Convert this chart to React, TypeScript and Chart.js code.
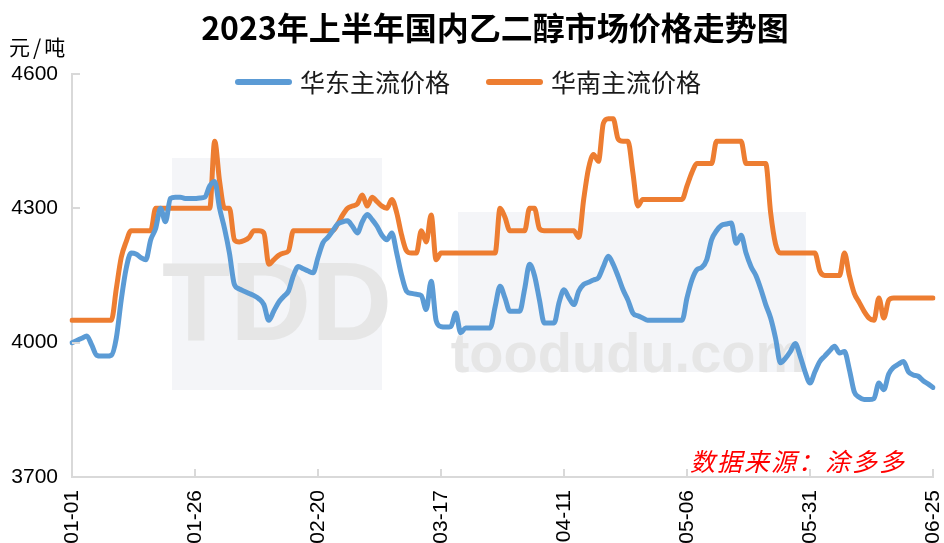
import React, { useEffect, useRef } from "react";
import { Chart, registerables } from "chart.js";

Chart.register(...registerables);

const TITLE = "2023年上半年国内乙二醇市场价格走势图";
const Y_UNIT = "元/吨";
const SOURCE = "数据来源：涂多多";
const SERIES_NAMES = ["华东主流价格", "华南主流价格"];
const SERIES_COLORS = ["#5B9BD5", "#ED7D31"];
const Y_MIN = 3700;
const Y_MAX = 4600;
const Y_STEP = 300;
const START_DATE = "2023-01-01";
const LABEL_EVERY = 25;

// 华东主流价格 (daily, 01-01 .. 06-25)
const EAST = [
  4000, 4005, 4010, 4015, 3995, 3972, 3970, 3970, 3972, 4010,
  4095, 4165, 4200, 4198, 4190, 4185, 4230, 4255, 4300, 4270,
  4322, 4325, 4325, 4322, 4322, 4322, 4323, 4325, 4350, 4360,
  4300, 4255, 4200, 4130, 4120, 4115, 4110, 4105, 4098, 4085,
  4050, 4070, 4090, 4103, 4115, 4150, 4170, 4165, 4160, 4156,
  4190, 4223, 4235, 4250, 4265, 4270, 4272, 4260, 4245, 4270,
  4286, 4275, 4260, 4240, 4230, 4245, 4200, 4150, 4115, 4110,
  4108, 4105, 4074, 4137, 4050, 4036, 4035, 4036, 4066, 4022,
  4033, 4033, 4033, 4033, 4033, 4033, 4080, 4126, 4100, 4070,
  4070, 4070, 4120, 4175, 4150, 4096, 4044, 4044, 4044, 4090,
  4118, 4100, 4085, 4115, 4130, 4135, 4140, 4145, 4170, 4193,
  4175, 4148, 4118, 4095, 4066, 4060, 4055, 4050, 4050, 4050,
  4050, 4050, 4050, 4050, 4050, 4100, 4140, 4163, 4168, 4185,
  4230, 4250, 4262, 4265, 4267, 4222, 4240, 4200, 4170, 4150,
  4120, 4085, 4055, 4010, 3955, 3965, 3980, 3998, 3970, 3935,
  3910, 3935, 3958, 3970, 3982, 3992, 3977, 3980, 3940, 3890,
  3878, 3873, 3873, 3875, 3910, 3895, 3930, 3945, 3952, 3958,
  3935, 3928, 3925, 3915, 3908, 3900,
];

// 华南主流价格 (daily, 01-01 .. 06-25)
const SOUTH = [
  4050, 4050, 4050, 4050, 4050, 4050, 4050, 4050, 4050, 4120,
  4190, 4225, 4250, 4250, 4250, 4250, 4250, 4300, 4300, 4300,
  4300, 4300, 4300, 4300, 4300, 4300, 4300, 4300, 4300, 4450,
  4360, 4300, 4300, 4230, 4225, 4228, 4235, 4250, 4250, 4245,
  4175, 4185, 4195, 4200, 4205, 4250, 4250, 4250, 4250, 4250,
  4250, 4250, 4250, 4250, 4265, 4285, 4300, 4305, 4310, 4330,
  4305, 4325, 4315, 4305, 4300, 4320, 4290, 4240, 4205, 4200,
  4200, 4250, 4225, 4285, 4185, 4200, 4200, 4200, 4200, 4200,
  4200, 4200, 4200, 4200, 4200, 4200, 4200, 4300, 4280, 4250,
  4250, 4250, 4250, 4300, 4300, 4255, 4250, 4250, 4250, 4250,
  4250, 4250, 4250, 4235, 4320, 4390, 4420, 4405, 4490, 4500,
  4500, 4455, 4450, 4450, 4380, 4305, 4320, 4320, 4320, 4320,
  4320, 4320, 4320, 4320, 4320, 4350, 4380, 4400, 4400, 4400,
  4400, 4450, 4450, 4450, 4450, 4450, 4450, 4400, 4400, 4400,
  4400, 4400, 4290, 4220, 4200, 4200, 4200, 4200, 4200, 4200,
  4200, 4200, 4160, 4150, 4150, 4150, 4150, 4200, 4150, 4110,
  4090, 4070, 4055, 4050, 4100, 4055, 4095, 4100, 4100, 4100,
  4100, 4100, 4100, 4100, 4100, 4100,
];

function buildDateLabels(start: string, count: number): string[] {
  const out: string[] = [];
  const d0 = new Date(start + "T00:00:00Z");
  for (let i = 0; i < count; i++) {
    const d = new Date(d0.getTime() + i * 86400000);
    const mm = String(d.getUTCMonth() + 1).padStart(2, "0");
    const dd = String(d.getUTCDate()).padStart(2, "0");
    out.push(`${mm}-${dd}`);
  }
  return out;
}

const DATES = buildDateLabels(START_DATE, EAST.length);

const AXIS_COLOR = "#d9d9d9";

const overlayPlugin = {
  id: "overlay",
  beforeDatasetsDraw(chart: any) {
    const ctx = chart.ctx as CanvasRenderingContext2D;
    ctx.save();
    // faint source watermark panels
    ctx.fillStyle = "#f4f5f8";
    ctx.fillRect(172, 158, 210, 232);
    ctx.fillRect(458, 212, 348, 160);
    ctx.fillStyle = "#e6e6e6";
    ctx.font = 'bold 112px "Liberation Sans"';
    ctx.textAlign = "center";
    ctx.textBaseline = "alphabetic";
    ctx.fillText("TDD", 277, 340);
    ctx.font = 'bold 56px "Liberation Sans"';
    ctx.fillText("toodudu.com", 628, 372);
    ctx.restore();
  },
  afterDraw(chart: any) {
    const ctx = chart.ctx as CanvasRenderingContext2D;
    const area = chart.chartArea;
    const xs = chart.scales.x;
    const ys = chart.scales.y;
    ctx.save();
    // inside tick marks
    ctx.strokeStyle = AXIS_COLOR;
    ctx.lineWidth = 2;
    for (let i = LABEL_EVERY; i < DATES.length; i += LABEL_EVERY) {
      const px = Math.round(xs.getPixelForValue(i));
      ctx.beginPath();
      ctx.moveTo(px, area.bottom);
      ctx.lineTo(px, area.bottom - 8);
      ctx.stroke();
    }
    for (let v = Y_MIN + Y_STEP; v <= Y_MAX; v += Y_STEP) {
      const py = Math.round(ys.getPixelForValue(v));
      ctx.beginPath();
      ctx.moveTo(area.left, py);
      ctx.lineTo(area.left + 8, py);
      ctx.stroke();
    }

    // title
    ctx.fillStyle = "#000";
    ctx.textAlign = "center";
    ctx.textBaseline = "alphabetic";
    ctx.font = 'bold 32px "Liberation Sans Narrow", "Noto Sans CJK SC"';
    ctx.fillText(TITLE, 495, 40);

    // unit
    ctx.textAlign = "left";
    ctx.font = '21px "Noto Sans CJK SC"';
    (ctx as any).letterSpacing = "3px";
    ctx.fillText(Y_UNIT, 9, 55);
    (ctx as any).letterSpacing = "0px";

    // legend
    const legendItems = [
      { x: 238, name: SERIES_NAMES[0], color: SERIES_COLORS[0] },
      { x: 489, name: SERIES_NAMES[1], color: SERIES_COLORS[1] },
    ];
    ctx.lineCap = "round";
    ctx.font = '25px "Noto Sans CJK SC"';
    ctx.textBaseline = "middle";
    for (const it of legendItems) {
      ctx.strokeStyle = it.color;
      ctx.lineWidth = 6;
      ctx.beginPath();
      ctx.moveTo(it.x, 82);
      ctx.lineTo(it.x + 51, 82);
      ctx.stroke();
      ctx.fillStyle = "#1a1a1a";
      ctx.fillText(it.name, it.x + 62, 82);
    }

    // source note
    ctx.textBaseline = "alphabetic";
    ctx.fillStyle = "#ff0000";
    ctx.font = 'italic 25px "Noto Sans CJK SC"';
    (ctx as any).letterSpacing = "2px";
    ctx.fillText(SOURCE, 690, 471);
    (ctx as any).letterSpacing = "0px";
    ctx.restore();
  },
};

export default function App() {
  const ref = useRef<HTMLCanvasElement | null>(null);
  useEffect(() => {
    if (!ref.current) return;
    const chart = new Chart(ref.current, {
      type: "line",
      data: {
        labels: DATES,
        datasets: [
          {
            label: SERIES_NAMES[0],
            data: EAST,
            borderColor: SERIES_COLORS[0],
            backgroundColor: SERIES_COLORS[0],
            borderWidth: 5,
            pointRadius: 0,
            tension: 0.4,
            cubicInterpolationMode: "monotone",
            borderCapStyle: "round",
            borderJoinStyle: "round",
          },
          {
            label: SERIES_NAMES[1],
            data: SOUTH,
            borderColor: SERIES_COLORS[1],
            backgroundColor: SERIES_COLORS[1],
            borderWidth: 5,
            pointRadius: 0,
            tension: 0.4,
            cubicInterpolationMode: "monotone",
            borderCapStyle: "round",
            borderJoinStyle: "round",
          },
        ],
      },
      options: {
        animation: false,
        responsive: true,
        maintainAspectRatio: false,
        layout: { padding: { top: 74, left: 10, right: 11, bottom: 0 } },
        plugins: {
          legend: { display: false },
          title: { display: false },
          tooltip: { enabled: false },
        },
        scales: {
          x: {
            type: "category",
            offset: false,
            grid: { display: false, drawTicks: false },
            border: { display: true, color: AXIS_COLOR, width: 2 },
            afterFit: (s: any) => {
              s.height = 66;
              s.paddingLeft = 0;
              s.paddingRight = 0;
            },
            ticks: {
              autoSkip: false,
              minRotation: 90,
              maxRotation: 90,
              padding: 13,
              color: "#000",
              font: { family: '"Liberation Sans", Arial', size: 21, lineHeight: 1 },
              callback: (_v: any, i: number) => (i % LABEL_EVERY === 0 ? DATES[i] : ""),
            },
          },
          y: {
            min: Y_MIN,
            max: Y_MAX,
            grid: { display: false, drawTicks: false },
            border: { display: true, color: AXIS_COLOR, width: 2 },
            afterFit: (s: any) => {
              s.width = 62;
              s.paddingTop = 0;
              s.paddingBottom = 0;
            },
            ticks: {
              stepSize: Y_STEP,
              padding: 14,
              color: "#000",
              font: { family: '"Liberation Sans", Arial', size: 21 },
              callback: (v: any) => String(v),
            },
          },
        },
      },
      plugins: [overlayPlugin],
    } as any);
    return () => chart.destroy();
  }, []);
  return (
    <div style={{ position: "absolute", left: 0, top: 0, width: 944, height: 543, background: "#fff" }}>
      <canvas ref={ref} />
    </div>
  );
}
